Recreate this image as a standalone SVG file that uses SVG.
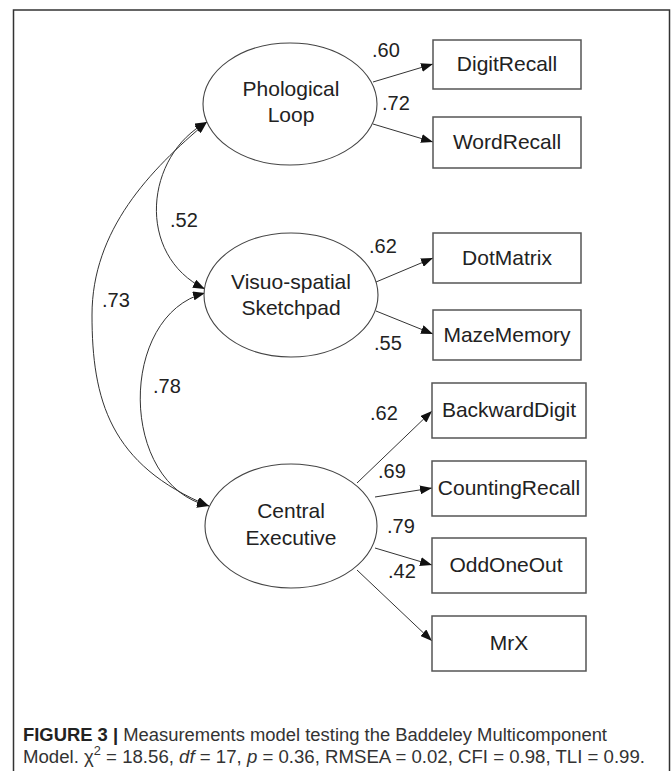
<svg xmlns="http://www.w3.org/2000/svg" width="672" height="771" viewBox="0 0 672 771">
<defs>
<style>
.frame{fill:none;stroke:#333;stroke-width:1.5}
.lat{fill:#fff;stroke:#444;stroke-width:1.1}
.obs{fill:#fff;stroke:#555;stroke-width:1.5}
.nt{font-family:"Liberation Sans",Arial,sans-serif;font-size:21px;fill:#222;text-anchor:middle}
.lb{font-family:"Liberation Sans",Arial,sans-serif;font-size:20px;fill:#222}
.edge{fill:none;stroke:#333;stroke-width:1}
.cap{font-family:"Liberation Sans",Arial,sans-serif;font-size:17.5px;fill:#333}
</style>
<marker id="ah" viewBox="0 0 12 9" refX="12" refY="4.5" markerWidth="12" markerHeight="9" orient="auto-start-reverse" markerUnits="userSpaceOnUse">
<path d="M0,0 L12,4.5 L0,9 z" fill="#111"/>
</marker>
</defs>
<rect x="0" y="0" width="672" height="771" fill="#fff"/>
<rect class="frame" x="13.5" y="10" width="656" height="790"/>

<g id="connectors">
<path class="edge" marker-start="url(#ah)" marker-end="url(#ah)" d="M207,122 C145,155 135,255 205,289"/>
<path class="edge" marker-start="url(#ah)" marker-end="url(#ah)" d="M207,122 C150,170 92,230 92,315 C92,400 110,465 209,506"/>
<path class="edge" marker-start="url(#ah)" marker-end="url(#ah)" d="M205,293 C118,315 118,485 209,506"/>
<line class="edge" marker-end="url(#ah)" x1="373" y1="82" x2="433" y2="64"/>
<line class="edge" marker-end="url(#ah)" x1="373" y1="124" x2="433" y2="142"/>
<line class="edge" marker-end="url(#ah)" x1="376" y1="282" x2="433" y2="258"/>
<line class="edge" marker-end="url(#ah)" x1="376" y1="311" x2="433" y2="334"/>
<line class="edge" marker-end="url(#ah)" x1="357" y1="483" x2="432" y2="411"/>
<line class="edge" marker-end="url(#ah)" x1="375" y1="497" x2="432" y2="488"/>
<line class="edge" marker-end="url(#ah)" x1="375" y1="548" x2="432" y2="565"/>
<line class="edge" marker-end="url(#ah)" x1="357" y1="570" x2="432" y2="641"/>
<text class="lb" x="372" y="57">.60</text>
<text class="lb" x="382" y="110">.72</text>
<text class="lb" x="369" y="253">.62</text>
<text class="lb" x="374" y="350">.55</text>
<text class="lb" x="370" y="420">.62</text>
<text class="lb" x="378" y="478">.69</text>
<text class="lb" x="387" y="533">.79</text>
<text class="lb" x="388" y="578">.42</text>
<text class="lb" x="170" y="227">.52</text>
<text class="lb" x="102" y="307">.73</text>
<text class="lb" x="153" y="393">.78</text>
</g>

<g id="phological-loop">
<ellipse class="lat" cx="290" cy="104" rx="87" ry="61"/>
<text class="nt" x="291" y="96">Phological</text>
<text class="nt" x="291" y="122">Loop</text>
</g>
<g id="visuo-spatial-sketchpad">
<ellipse class="lat" cx="291" cy="295" rx="87" ry="62"/>
<text class="nt" x="291" y="289">Visuo-spatial</text>
<text class="nt" x="291" y="315">Sketchpad</text>
</g>
<g id="central-executive">
<ellipse class="lat" cx="291" cy="526" rx="86" ry="62"/>
<text class="nt" x="291" y="518">Central</text>
<text class="nt" x="291" y="545">Executive</text>
</g>

<g id="digit-recall"><rect class="obs" x="433" y="40" width="148" height="49"/><text class="nt" x="507" y="71">DigitRecall</text></g>
<g id="word-recall"><rect class="obs" x="433" y="117" width="148" height="51"/><text class="nt" x="507" y="149">WordRecall</text></g>
<g id="dot-matrix"><rect class="obs" x="433" y="233" width="148" height="50"/><text class="nt" x="507" y="265">DotMatrix</text></g>
<g id="maze-memory"><rect class="obs" x="433" y="310" width="148" height="50"/><text class="nt" x="507" y="342">MazeMemory</text></g>
<g id="backward-digit"><rect class="obs" x="432" y="383" width="154" height="55"/><text class="nt" x="509" y="417">BackwardDigit</text></g>
<g id="counting-recall"><rect class="obs" x="432" y="461" width="154" height="55"/><text class="nt" x="509" y="495">CountingRecall</text></g>
<g id="odd-one-out"><rect class="obs" x="432" y="538" width="154" height="55"/><text class="nt" x="506" y="572">OddOneOut</text></g>
<g id="mrx"><rect class="obs" x="432" y="616" width="154" height="55"/><text class="nt" x="509" y="650">MrX</text></g>

<g id="caption">
<text class="cap" x="23" y="741" textLength="584" lengthAdjust="spacingAndGlyphs"><tspan font-weight="bold" fill="#222">FIGURE 3 |</tspan> Measurements model testing the Baddeley Multicomponent</text>
<text class="cap" x="23" y="763" textLength="622" lengthAdjust="spacingAndGlyphs">Model. χ<tspan font-size="12" dy="-8">2</tspan><tspan dy="8"> = 18.56, </tspan><tspan font-style="italic">df</tspan> = 17, <tspan font-style="italic">p</tspan> = 0.36, RMSEA = 0.02, CFI = 0.98, TLI = 0.99.</text>
</g>
</svg>
